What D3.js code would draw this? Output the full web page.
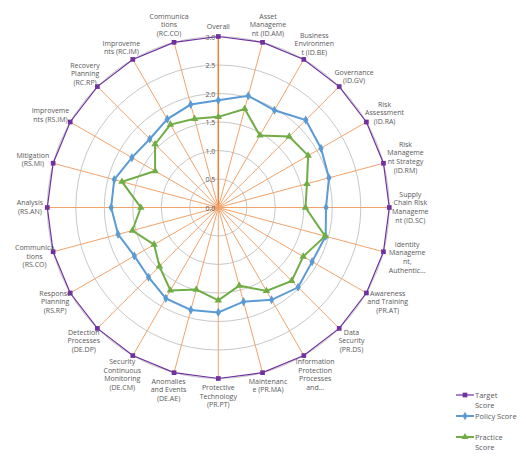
<!DOCTYPE html>
<html><head><meta charset="utf-8">
<script src="https://cdn.jsdelivr.net/npm/d3@7"></script>
<style>body{margin:0;background:#fff}svg{font-family:"Open Sans",Calibri,sans-serif}</style>
</head><body><svg id="c" width="526" height="459"></svg>
<script>
const categories=[["Overall"],["Asset","Manageme","nt (ID.AM)"],["Business","Environmen","t (ID.BE)"],["Governance","(ID.GV)"],["Risk","Assessment","(ID.RA)"],["Risk","Manageme","nt Strategy","(ID.RM)"],["Supply","Chain Risk","Manageme","nt (ID.SC)"],["Identity","Manageme","nt,","Authentic..."],["Awareness","and Training","(PR.AT)"],["Data","Security","(PR.DS)"],["Information","Protection","Processes","and..."],["Maintenanc","e (PR.MA)"],["Protective","Technology","(PR.PT)"],["Anomalies","and Events","(DE.AE)"],["Security","Continuous","Monitoring","(DE.CM)"],["Detection","Processes","(DE.DP)"],["Response","Planning","(RS.RP)"],["Communica","tions","(RS.CO)"],["Analysis","(RS.AN)"],["Mitigation","(RS.MI)"],["Improveme","nts (RS.IM)"],["Recovery","Planning","(RC.RP)"],["Improveme","nts (RC.IM)"],["Communica","tions","(RC.CO)"]];
const target=[3,3,3,3,3,3,3,3,3,3,3,3,3,3,3,3,3,3,3,3,3,3,3,3];
const policy=[1.88,2.03,1.97,2.17,2.08,2.01,1.89,1.95,1.90,1.98,1.87,1.71,1.84,1.86,1.84,1.73,1.70,1.82,1.88,1.89,1.75,1.70,1.79,1.87];
const practice=[1.59,1.79,1.46,1.76,1.82,1.61,1.53,1.94,1.72,1.82,1.69,1.42,1.63,1.49,1.68,1.46,1.30,1.56,1.36,1.75,1.28,1.57,1.68,1.61];
const ticks=[0,0.5,1,1.5,2,2.5,3];
const seriesNames=["Target Score","Policy Score","Practice Score"];

const svg=d3.select("#c"),cx=218.3,cy=207.5;
const r=d3.scaleLinear().domain([0,3]).range([0,171]);
const n=categories.length;
const ang=d3.scaleLinear().domain([0,n]).range([0,2*Math.PI]);
const pt=(i,v)=>[cx+Math.sin(ang(i))*r(v),cy-Math.cos(ang(i))*r(v)];
const g=svg.append("g");
ticks.slice(1).forEach(t=>g.append("circle").attr("cx",cx).attr("cy",cy).attr("r",r(t)).attr("fill","none").attr("stroke","#c8c8c8").attr("stroke-width",1));
d3.range(n).forEach(i=>{const p=pt(i,3);g.append("line").attr("x1",cx).attr("y1",cy).attr("x2",p[0]).attr("y2",p[1]).attr("stroke",i==0?"#ED7D31":"#F2A36B").attr("stroke-width",i==0?1.5:1);});
ticks.forEach(t=>g.append("text").attr("x",cx-3).attr("y",cy-r(t)+3).attr("text-anchor","end").attr("font-size",7).attr("fill","#595959").text(t.toFixed(1)));
const line=d3.line().x(d=>d[0]).y(d=>d[1]).curve(d3.curveLinearClosed);
function series(vals,color,shape,w){
  const pts=vals.map((v,i)=>pt(i,v));
  g.append("path").attr("d",line(pts)).attr("fill","none").attr("stroke",color).attr("stroke-width",w);
  pts.forEach(p=>g.append("path").attr("transform",`translate(${p[0]},${p[1]})`).attr("d",d3.symbol().type(shape).size(shape===d3.symbolSquare?22:24)()).attr("fill",color));
}
series(target,"#7030A0",d3.symbolSquare,1.2);
series(policy,"#5B9BD5",d3.symbolDiamond,2);
series(practice,"#70AD47",d3.symbolTriangle,2);
categories.forEach((lines,i)=>{
  const a=ang(i),p=pt(i,3),lh=8.6,h=lines.length*lh;
  const w=d3.max(lines,l=>l.length)*3.6;
  const x=p[0]+Math.sin(a)*(w/2+3), y=p[1]-Math.cos(a)*(h/2+5);
  const t=g.append("text").attr("font-size",7).attr("fill","#595959").attr("text-anchor","middle");
  lines.forEach((l,k)=>t.append("tspan").attr("x",x).attr("y",y-h/2+lh*k+6.5).text(l));
});
const leg=svg.append("g").attr("font-size",7.5).attr("fill","#595959");
const legY=[398,419,440],cols=["#7030A0","#5B9BD5","#70AD47"],shapes=[d3.symbolSquare,d3.symbolDiamond,d3.symbolTriangle];
seriesNames.forEach((s,i)=>{
  const y=legY[i];
  leg.append("line").attr("x1",456).attr("x2",474).attr("y1",y-3).attr("y2",y-3).attr("stroke",cols[i]).attr("stroke-width",i?2:1.2);
  leg.append("path").attr("transform",`translate(465,${y-3})`).attr("d",d3.symbol().type(shapes[i]).size(22)()).attr("fill",cols[i]);
  const parts=s.split(" ");
  const t=leg.append("text").attr("x",475).attr("y",y);
  if(i==1) t.text(s); else {t.append("tspan").attr("x",475).attr("y",y).text(parts[0]);t.append("tspan").attr("x",475).attr("y",y+9.5).text(parts[1]);}
});
</script></body></html>
